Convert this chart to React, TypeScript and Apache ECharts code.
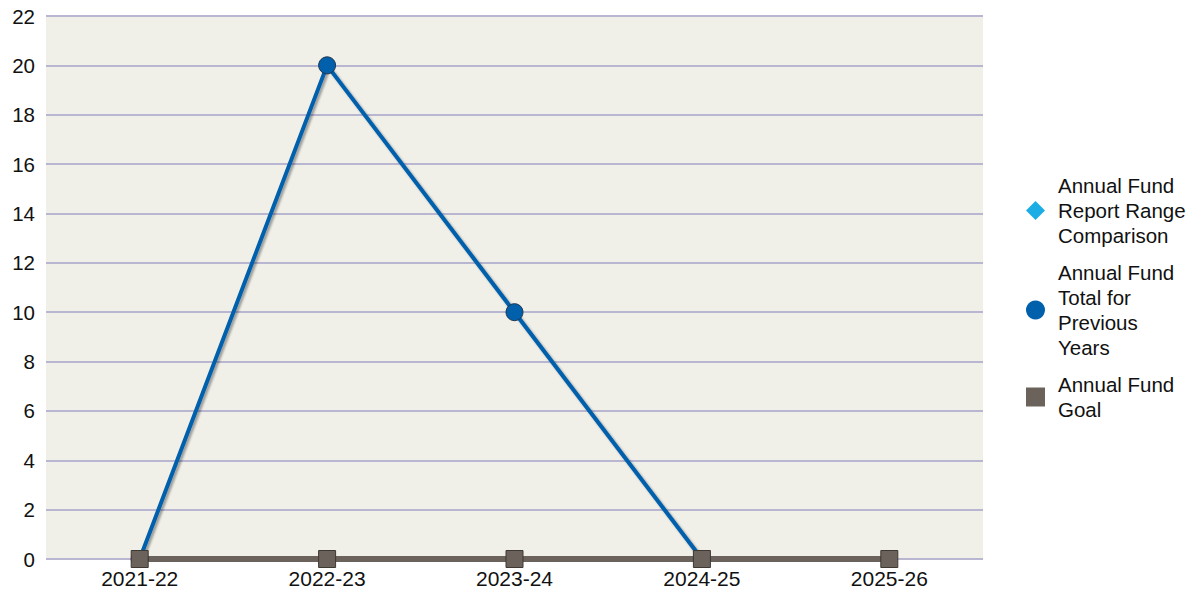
import React, { useEffect, useRef } from "react";
import * as echarts from "echarts";

const categories = ["2021-22", "2022-23", "2023-24", "2024-25", "2025-26"];
const reportRange: (number | null)[] = [null, null, null, null, null];
const previousYears: (number | null)[] = [0, 20, 10, 0, null];
const goal: (number | null)[] = [0, 0, 0, 0, 0];
const legendLabels: Record<string, string> = {
  "Annual Fund Report Range Comparison": "Annual Fund\nReport Range\nComparison",
  "Annual Fund Total for Previous Years": "Annual Fund\nTotal for\nPrevious\nYears",
  "Annual Fund Goal": "Annual Fund\nGoal",
};

export default function App() {
  const ref = useRef<HTMLDivElement>(null);
  useEffect(() => {
    if (!ref.current) return;
    const chart = echarts.init(ref.current, null, { renderer: "svg" });
    const font = "Liberation Sans, Arial, sans-serif";
    chart.setOption({
      animation: false,
      textStyle: { fontFamily: font },
      grid: {
        left: 46,
        right: 207,
        top: 16,
        bottom: 36,
        show: true,
        backgroundColor: "#F0EFE8",
        borderWidth: 0,
      },
      legend: {
        orient: "vertical",
        left: 1026,
        top: "middle",
        padding: 0,
        itemWidth: 19,
        itemHeight: 19,
        itemGap: 12,
        textStyle: {
          fontSize: 20.5,
          lineHeight: 25,
          color: "#111",
          fontFamily: font,
          padding: [0, 0, 0, 8],
        },
        formatter: (n: string) => legendLabels[n] || n,
        data: [
          { name: "Annual Fund Report Range Comparison", icon: "diamond", itemStyle: { color: "#1CADE4" } },
          { name: "Annual Fund Total for Previous Years", icon: "circle", itemStyle: { color: "#0060AC", borderWidth: 0 } },
          { name: "Annual Fund Goal", icon: "rect", itemStyle: { color: "#6B625B", borderWidth: 0 } },
        ],
      },
      xAxis: {
        type: "category",
        data: categories,
        boundaryGap: true,
        axisLine: { show: false },
        axisTick: { show: false },
        axisLabel: { fontSize: 21, color: "#111", margin: 9 },
      },
      yAxis: {
        type: "value",
        min: 0,
        max: 22,
        interval: 2,
        axisLine: { show: false },
        axisTick: { show: false },
        axisLabel: { fontSize: 20.5, color: "#111", margin: 11 },
        splitLine: { lineStyle: { color: "#B9B6D1", width: 2 } },
      },
      series: [
        {
          name: "Annual Fund Report Range Comparison",
          type: "line",
          data: reportRange,
          symbol: "diamond",
          symbolSize: 16,
          itemStyle: { color: "#1CADE4" },
        },
        {
          name: "Annual Fund Total for Previous Years",
          type: "line",
          data: previousYears,
          symbol: "circle",
          symbolSize: 17,
          showAllSymbol: true,
          clip: false,
          itemStyle: { color: "#0060AC", borderColor: "#1F3550", borderWidth: 1 },
          lineStyle: {
            color: "#0060AC",
            width: 4,
            shadowColor: "rgba(0,0,0,0.35)",
            shadowBlur: 2,
            shadowOffsetX: 2,
            shadowOffsetY: 2,
          },
        },
        {
          name: "Annual Fund Goal",
          type: "line",
          data: goal,
          symbol: "rect",
          symbolSize: 17,
          showAllSymbol: true,
          clip: false,
          itemStyle: { color: "#6B625B", borderColor: "#3E3833", borderWidth: 1 },
          lineStyle: {
            color: "#6B625B",
            width: 6,
          },
        },
      ],
    });
    return () => chart.dispose();
  }, []);
  return <div ref={ref} style={{ width: 1190, height: 595, position: "absolute", left: 0, top: 0 }} />;
}
